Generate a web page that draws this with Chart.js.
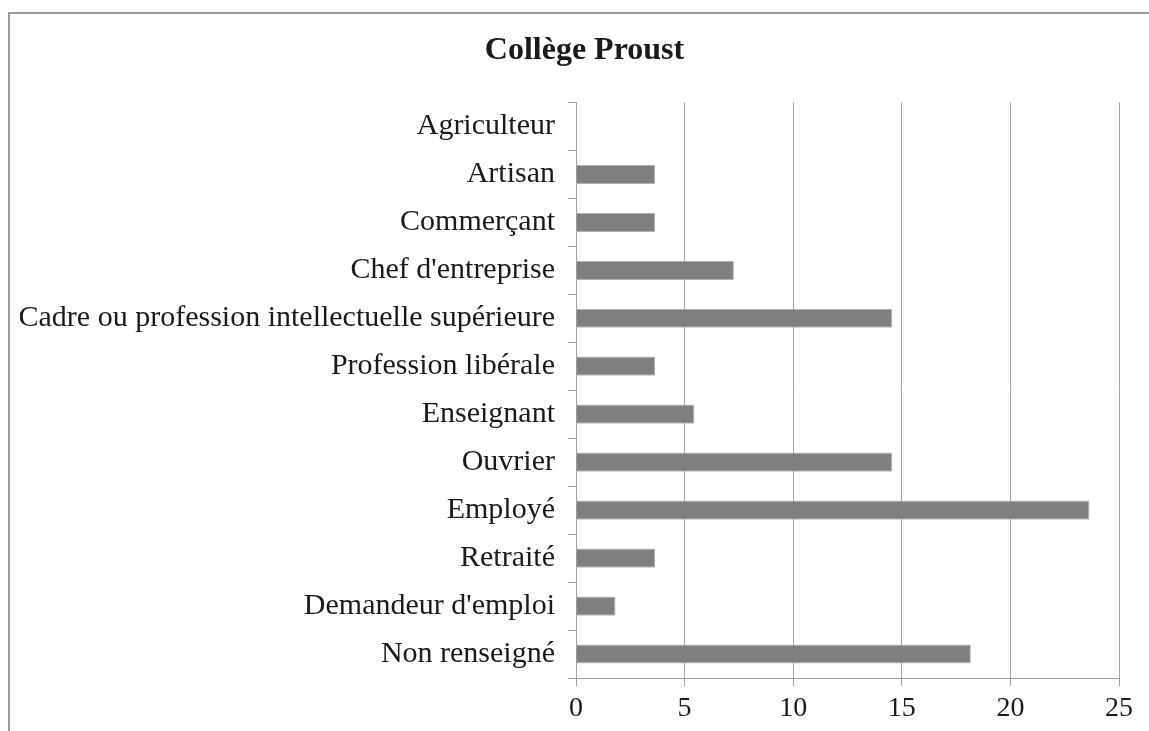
<!DOCTYPE html>
<html lang="fr">
<head>
<meta charset="utf-8">
<title>Collège Proust</title>
<script src="https://cdn.jsdelivr.net/npm/chart.js@4/dist/chart.umd.min.js"></script>
<style>
  html, body { margin: 0; padding: 0; background: #fff; overflow: hidden; }
  #frame {
    position: absolute; left: 8px; top: 12px;
    width: 2000px; height: 2000px;
    border-left: 2px solid #9b9b9b; border-top: 2px solid #9b9b9b;
  }
  #chart { position: absolute; left: 0; top: 0; }
</style>
</head>
<body>
<div id="frame"></div>
<canvas id="chart" width="1149" height="731"></canvas>
<script>
// Professions des parents, en % des élèves
const categories = [
  'Agriculteur', 'Artisan', 'Commerçant', "Chef d'entreprise",
  'Cadre ou profession intellectuelle supérieure', 'Profession libérale',
  'Enseignant', 'Ouvrier', 'Employé', 'Retraité', "Demandeur d'emploi",
  'Non renseigné'
];
const values = [0, 3.64, 3.64, 7.27, 14.55, 3.64, 5.45, 14.55, 23.64, 3.64, 1.82, 18.18];
const xTicks = [0, 5, 10, 15, 20, 25];

const serif = "'Liberation Serif', 'Times New Roman', serif";
const gridGray = '#a2a2a2';

// the title is centred over a slightly narrower band than the full canvas
const shiftTitle = {
  id: 'shiftTitle',
  afterLayout(chart) {
    if (chart.titleBlock) chart.titleBlock.left += 30;
  }
};

new Chart(document.getElementById('chart'), {
  type: 'bar',
  data: {
    labels: categories,
    datasets: [{
      data: values,
      backgroundColor: '#7f7f83',
      borderColor: '#b4b4b8',
      borderWidth: 1,
      categoryPercentage: 1,
      barPercentage: 0.4
    }]
  },
  options: {
    indexAxis: 'y',
    responsive: false,
    devicePixelRatio: 1,
    animation: false,
    layout: { padding: { top: 0, right: 30, bottom: 0, left: 20 } },
    plugins: {
      legend: { display: false },
      tooltip: { enabled: false },
      title: {
        display: true,
        text: 'Collège Proust',
        color: '#1a1a1a',
        font: { family: serif, size: 32, weight: 'bold' },
        padding: { top: 32, bottom: 32 }
      }
    },
    scales: {
      x: {
        min: 0,
        max: 25,
        afterBuildTicks: s => { s.ticks = xTicks.map(v => ({ value: v })); },
        afterFit: s => { s.height = 53; },
        grid: { color: gridGray, lineWidth: 1, tickLength: 8 },
        border: { color: gridGray, width: 1 },
        ticks: {
          color: '#1a1a1a',
          padding: 6,
          font: { family: serif, size: 28 }
        }
      },
      y: {
        afterFit: s => { s.width = 556; },
        grid: { drawOnChartArea: false, offset: true, color: gridGray, tickLength: 8 },
        border: { color: gridGray, width: 1 },
        ticks: {
          color: '#1a1a1a',
          padding: 13,
          font: { family: serif, size: 30 }
        }
      }
    }
  },
  plugins: [shiftTitle]
});
</script>
</body>
</html>
